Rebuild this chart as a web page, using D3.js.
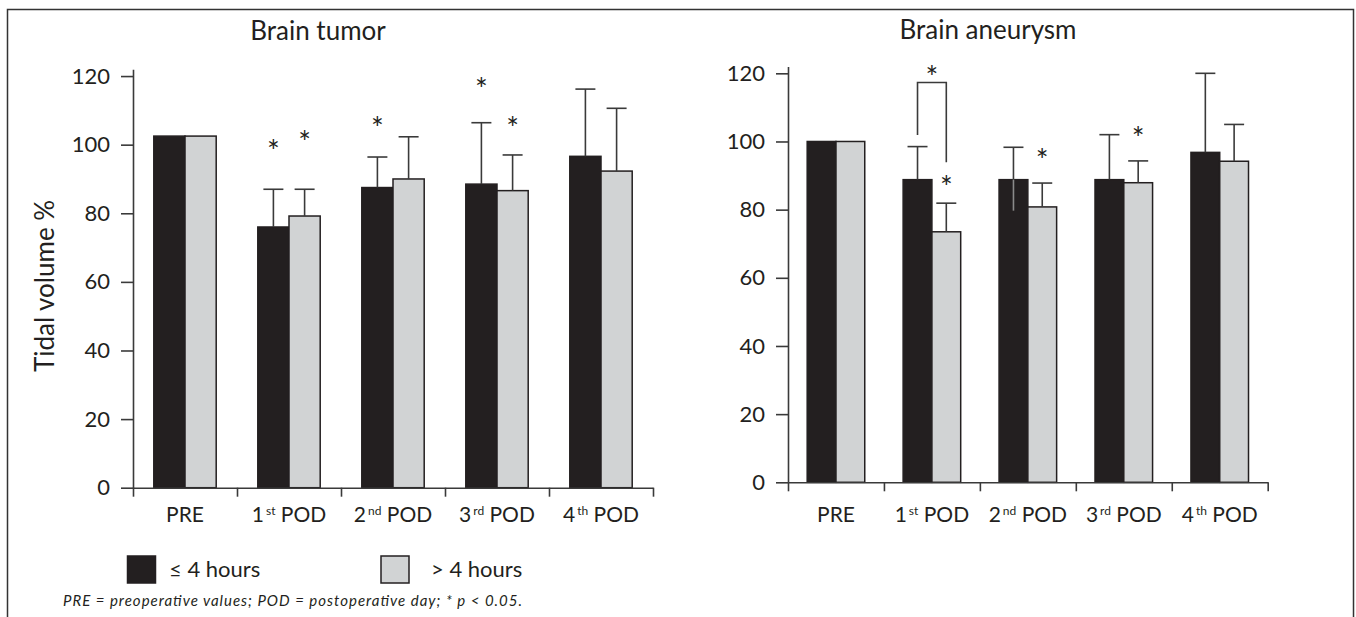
<!DOCTYPE html>
<html>

<head>
  <meta charset="utf-8">
  <title>Tidal volume % - brain tumor / brain aneurysm</title>
  <script src="https://cdn.jsdelivr.net/npm/d3@7"></script>
  <style>
    body {
      margin: 0;
      background: #fff;
    }

    svg {
      display: block;
      font-family: Lato, "Open Sans", sans-serif;
    }

    .axis path,
    .axis line {
      stroke: #3a3a3a;
      stroke-width: 1.6;
    }

    .axis text {
      font-family: Lato, sans-serif;
      font-size: 22px;
      fill: #231f20;
    }

    .bar {
      stroke: #231f20;
      stroke-width: 1.5;
    }

    .err {
      stroke: #3a3a3a;
      stroke-width: 1.6;
      fill: none;
    }

    .title {
      font-size: 26px;
      fill: #231f20;
    }

    .cat {
      font-size: 21px;
      fill: #231f20;
    }

    .star {
      font-size: 30px;
      fill: #231f20;
    }
  </style>
</head>

<body>
  <svg id="chart" width="1356" height="617"></svg>

  <script>
    // data
    var catMain = ['PRE', '1', '2', '3', '4'];
    var catSup = ['', 'st', 'nd', 'rd', 'th'];
    var seriesNames = ['\u2264 4 hours', '> 4 hours'];
    var seriesColors = ['#231f20', '#d1d3d4'];
    var yTicks = [0, 20, 40, 60, 80, 100, 120];

    // brain tumor
    var tumorShort = [102.5, 76, 87.5, 88.5, 96.6];
    var tumorLong = [102.5, 79.2, 90, 86.6, 92.3];
    var tumorShortErr = [null, 87, 96.4, 106.4, 116.2];
    var tumorLongErr = [null, 87, 102.3, 97, 110.6];
    var tumorStars = [
      { cat: 1, s: 0, v: 100 },
      { cat: 1, s: 1, v: 102.5 },
      { cat: 2, s: 0, v: 106.7 },
      { cat: 3, s: 0, v: 118 },
      { cat: 3, s: 1, v: 106.7 }
    ];

    // brain aneurysm
    var aneurysmShort = [100, 88.8, 88.8, 88.8, 96.8];
    var aneurysmLong = [100, 73.5, 80.8, 87.9, 94.2];
    var aneurysmShortErr = [null, 98.5, 98.3, 102, 120];
    var aneurysmLongErr = [null, 81.9, 87.8, 94.3, 105];
    var aneurysmShortLow = [null, null, 79.7, null, null];
    var aneurysmStars = [
      { cat: 1, s: 1, v: 88.4 },
      { cat: 2, s: 1, v: 96.3 },
      { cat: 3, s: 1, v: 102.9 }
    ];
    var aneurysmBracket = [{ cat: 1, left: 101.9, right: 93.9, top: 117.3, star: 120.7 }];

    var svg = d3.select('#chart');

    // frame round the whole figure
    svg.append('rect')
      .attr('x', 7.5).attr('y', 9.5)
      .attr('width', 1346).attr('height', 700)
      .attr('fill', 'none')
      .attr('stroke', '#333')
      .attr('stroke-width', 1.5);

    function drawPanel(cfg) {
      var g = svg.append('g');
      var n = catMain.length;

      var x = d3.scaleBand().domain(d3.range(n))
        .range([cfg.left, cfg.right])
        .paddingInner(0.4).paddingOuter(0.2);
      var xs = d3.scaleBand().domain([0, 1]).range([0, x.bandwidth()]);
      var xb = d3.scaleLinear().domain([0, n]).range([cfg.left, cfg.right]);
      var y = d3.scaleLinear().domain([0, 122]).range([cfg.bottom, cfg.top]);

      var cx = (i, s) => x(i) + xs(s) + xs.bandwidth() / 2;

      var rows = [];
      cfg.values.forEach(function (vals, s) {
        vals.forEach(function (v, i) {
          rows.push({ i: i, s: s, v: v, err: cfg.errs[s][i], low: cfg.lows ? cfg.lows[s][i] : null });
        });
      });

      g.selectAll('rect.bar')
        .data(rows)
        .enter()
        .append('rect')
        .attr('class', 'bar')
        .attr('x', d => x(d.i) + xs(d.s))
        .attr('y', d => y(d.v))
        .attr('width', xs.bandwidth())
        .attr('height', d => y(0) - y(d.v))
        .attr('fill', d => seriesColors[d.s]);

      // error bars (upper whisker)
      var withErr = rows.filter(d => d.err != null);
      g.selectAll('line.stem')
        .data(withErr)
        .enter()
        .append('line')
        .attr('class', 'err')
        .attr('x1', d => cx(d.i, d.s)).attr('x2', d => cx(d.i, d.s))
        .attr('y1', d => y(d.v)).attr('y2', d => y(d.err));
      g.selectAll('line.cap')
        .data(withErr)
        .enter()
        .append('line')
        .attr('class', 'err')
        .attr('x1', d => cx(d.i, d.s) - 10).attr('x2', d => cx(d.i, d.s) + 10)
        .attr('y1', d => y(d.err)).attr('y2', d => y(d.err));

      // lower whisker, shows through the dark bar
      g.selectAll('line.low')
        .data(rows.filter(d => d.low != null))
        .enter()
        .append('line')
        .attr('stroke', '#8a8a8a')
        .attr('stroke-width', 1.6)
        .attr('x1', d => cx(d.i, d.s)).attr('x2', d => cx(d.i, d.s))
        .attr('y1', d => y(d.v)).attr('y2', d => y(d.low));

      // axes
      g.append('g')
        .attr('class', 'axis')
        .attr('transform', 'translate(0,' + cfg.bottom + ')')
        .call(d3.axisBottom(xb).ticks(n).tickSize(9).tickSizeOuter(0).tickFormat(''));

      g.append('g')
        .attr('class', 'axis')
        .attr('transform', 'translate(' + cfg.left + ',0)')
        .call(d3.axisLeft(y).tickValues(yTicks).tickSize(12).tickSizeOuter(0).tickPadding(11));

      // category labels with superscripts
      var lab = g.selectAll('text.cat')
        .data(d3.range(n))
        .enter()
        .append('text')
        .attr('class', 'cat')
        .attr('x', i => x(i) + x.bandwidth() / 2)
        .attr('y', 522)
        .attr('text-anchor', 'middle');
      lab.append('tspan').text(i => catMain[i]);
      lab.filter(i => catSup[i] !== '')
        .append('tspan')
        .attr('font-size', '12px')
        .attr('dx', 2)
        .attr('dy', -7)
        .text(i => catSup[i]);
      lab.filter(i => catSup[i] !== '')
        .append('tspan')
        .attr('dy', 7)
        .text(' POD');

      // significance marks
      g.selectAll('text.star')
        .data(cfg.stars)
        .enter()
        .append('text')
        .attr('class', 'star')
        .attr('text-anchor', 'middle')
        .attr('x', d => cx(d.cat, d.s))
        .attr('y', d => y(d.v) + 17)
        .text('*');

      if (cfg.brackets) {
        g.selectAll('path.bracket')
          .data(cfg.brackets)
          .enter()
          .append('path')
          .attr('class', 'err')
          .attr('d', d => 'M' + cx(d.cat, 0) + ',' + y(d.left) +
            'V' + y(d.top) + 'H' + cx(d.cat, 1) + 'V' + y(d.right));
        g.selectAll('text.bstar')
          .data(cfg.brackets)
          .enter()
          .append('text')
          .attr('class', 'star')
          .attr('text-anchor', 'middle')
          .attr('x', d => (cx(d.cat, 0) + cx(d.cat, 1)) / 2)
          .attr('y', d => y(d.star) + 17)
          .text('*');
      }

      g.append('text')
        .attr('class', 'title')
        .attr('x', cfg.titleX)
        .attr('y', cfg.titleY)
        .attr('text-anchor', 'middle')
        .text(cfg.title);
    }

    drawPanel({
      left: 133, right: 653, bottom: 487.7, top: 69.2,
      title: 'Brain tumor', titleX: 318, titleY: 40,
      values: [tumorShort, tumorLong],
      errs: [tumorShortErr, tumorLongErr],
      stars: tumorStars
    });

    drawPanel({
      left: 788, right: 1267.7, bottom: 482.3, top: 66.5,
      title: 'Brain aneurysm', titleX: 988, titleY: 38.5,
      values: [aneurysmShort, aneurysmLong],
      errs: [aneurysmShortErr, aneurysmLongErr],
      lows: [aneurysmShortLow, [null, null, null, null, null]],
      stars: aneurysmStars,
      brackets: aneurysmBracket
    });

    // y axis title
    svg.append('text')
      .attr('transform', 'translate(54,286) rotate(-90)')
      .attr('text-anchor', 'middle')
      .style('font-size', '26px')
      .attr('fill', '#231f20')
      .text('Tidal volume %');

    // legend
    var legX = [127.5, 381];
    var legTextX = [169, 431];
    var leg = svg.selectAll('g.leg')
      .data(seriesNames)
      .enter()
      .append('g');
    leg.append('rect')
      .attr('x', (d, i) => legX[i])
      .attr('y', 556)
      .attr('width', 28)
      .attr('height', 27)
      .attr('fill', (d, i) => seriesColors[i])
      .attr('stroke', '#231f20')
      .attr('stroke-width', 1.5);
    leg.append('text')
      .attr('x', (d, i) => legTextX[i])
      .attr('y', 577)
      .style('font-size', '22px')
      .attr('fill', '#231f20')
      .text(d => d);

    svg.append('text')
      .attr('x', 63)
      .attr('y', 606)
      .attr('textLength', 459)
      .attr('lengthAdjust', 'spacing')
      .style('font-size', '15px')
      .style('font-style', 'italic')
      .attr('fill', '#231f20')
      .text('PRE = preoperative values; POD = postoperative day; * p < 0.05.');
  </script>
</body>

</html>
